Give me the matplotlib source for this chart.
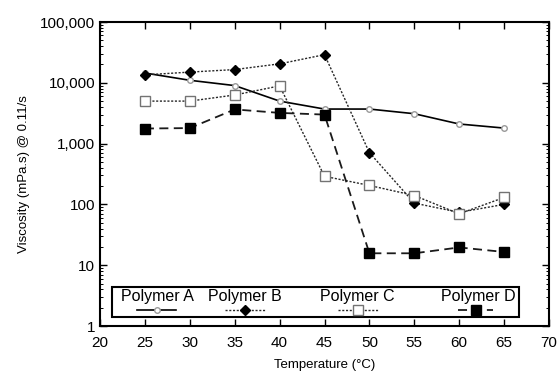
import matplotlib.pyplot as plt
from matplotlib.ticker import FuncFormatter, MultipleLocator, LogLocator

plt.rcParams['font.family'] = ['Liberation Sans', 'DejaVu Sans']

temps = [25, 30, 35, 40, 45, 50, 55, 60, 65]
polymer_a = [14500, 11000, 9000, 5000, 3700, 3700, 3100, 2100, 1800]
polymer_b = [13500, 15000, 16500, 20500, 29000, 710, 105, 74, 100]
polymer_c = [5000, 5000, 6300, 8900, 290, 205, 140, 70, 130]
polymer_d = [1770, 1800, 3650, 3200, 3000, 15.7, 15.7, 19.6, 16.5]
labels = ["Polymer A", "Polymer B", "Polymer C", "Polymer D"]

fig = plt.figure(figsize=(5.58, 3.74), dpi=100)
ax = fig.add_axes([100/558, 48/374, 449/558, 304/374])

styles = [
    dict(color='black', lw=1.2, ls='-', marker='o', ms=4, mfc='white', mec='0.6'),
    dict(color='0.15', lw=1.0, ls=(0, (1.5, 1.2)), marker='D', ms=5.5, mfc='black', mec='black'),
    dict(color='0.15', lw=1.0, ls=(0, (1.5, 1.2)), marker='s', ms=6.5, mfc='white', mec='0.45'),
    dict(color='0.1', lw=1.3, ls=(0, (5, 3)), marker='s', ms=7.5, mfc='black', mec='black'),
]
series = [polymer_a, polymer_b, polymer_c, polymer_d]
for vals, st in zip(series, styles):
    ax.plot(temps, vals, **st)

ax.set_yscale('log')
ax.set_ylim(1, 100000)
ax.set_xlim(20, 70)
ax.xaxis.set_major_locator(MultipleLocator(5))
ax.yaxis.set_major_locator(LogLocator(base=10, numticks=10))
ax.yaxis.set_minor_locator(LogLocator(base=10, subs=range(2, 10), numticks=10))
ax.yaxis.set_major_formatter(FuncFormatter(lambda v, p: f"{v:,.0f}"))
ax.tick_params(which='both', direction='in', top=True, right=True, labelsize=11)
ax.tick_params(which='major', length=5, width=1)
ax.tick_params(which='minor', length=2.5, width=0.7)
ax.tick_params(axis='x', pad=7)
for sp in ax.spines.values():
    sp.set_linewidth(1.5)

ax.set_xlabel("Temperature (°C)", fontsize=9.5, labelpad=7)
ax.set_ylabel("Viscosity (mPa.s) @ 0.11/s", fontsize=9.5, labelpad=7)

# hand-drawn legend box: labels above their line samples
tr = ax.transAxes
ax.add_patch(plt.Rectangle((12/449, 9/304), 407/449, 30/304, transform=tr,
                           fill=False, lw=1.5, ec='black', zorder=5))
text_x = [157, 245, 357, 478]
line_x = [(137, 176), (225, 265), (338, 378), (458, 493)]
for lab, tx, (x0, x1), st in zip(labels, text_x, line_x, styles):
    ax.text((tx - 100) / 449, (326 - 297) / 304, lab, transform=tr,
            ha='center', va='center', fontsize=11.5, zorder=6)
    yy = (326 - 310) / 304
    ax.plot([(x0 - 100) / 449, (x1 - 100) / 449], [yy, yy], transform=tr,
            color=st['color'], lw=st['lw'], ls=st['ls'], zorder=6, clip_on=False)
    ax.plot([((x0 + x1) / 2 - 100) / 449], [yy], transform=tr, marker=st['marker'],
            ms=st['ms'], mfc=st['mfc'], mec=st['mec'], ls='none', zorder=7, clip_on=False)

fig.savefig("out.png", dpi=100)
